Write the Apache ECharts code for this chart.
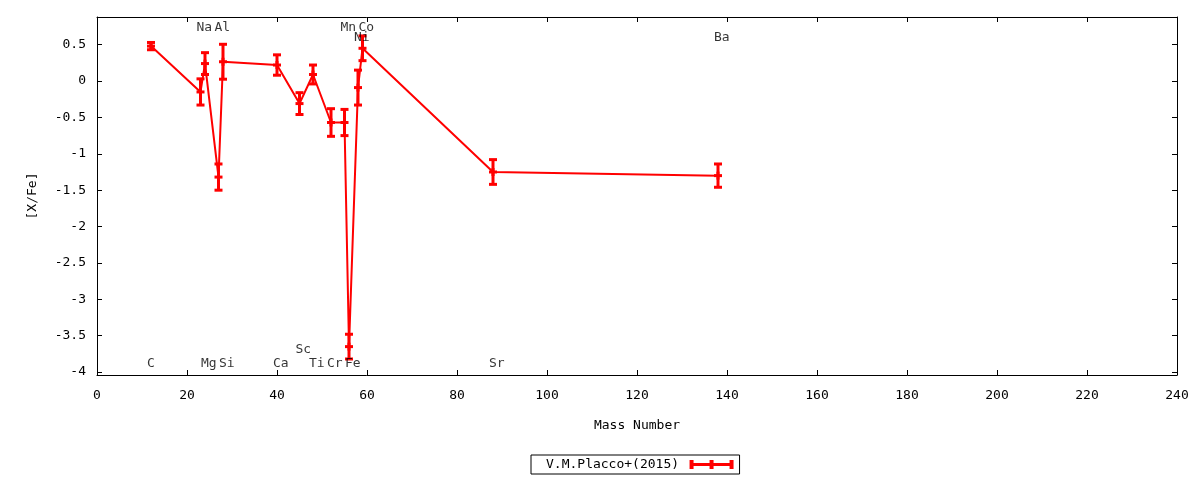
<!DOCTYPE html>
<html><head><meta charset="utf-8">
<script src="https://cdn.jsdelivr.net/npm/echarts@6/dist/echarts.min.js"></script>
<style>html,body{margin:0;padding:0;background:#fff}#c{width:1200px;height:480px}</style>
</head><body><div id="c"></div>
<script>
const seriesName = 'V.M.Placco+(2015)';
const massNumbers = [12, 23, 24, 27, 28, 40, 45, 48, 52, 55, 56, 58, 59, 88, 138];
const xfeValues   = [0.48, -0.15, 0.24, -1.32, 0.265, 0.22, -0.31, 0.09, -0.57, -0.57, -3.65, -0.09, 0.45, -1.25, -1.30];
const xfeErrors   = [0.05, 0.18, 0.15, 0.18, 0.24, 0.14, 0.15, 0.13, 0.19, 0.18, 0.17, 0.24, 0.17, 0.17, 0.16];
const elementNames  = ['C', 'Na', 'Mg', 'Al', 'Si', 'Ca', 'Sc', 'Ti', 'Cr', 'Mn', 'Fe', 'Co', 'Ni', 'Sr', 'Ba'];
const elementMass   = [12, 23, 24, 27, 28, 40, 45, 48, 52, 55, 56, 59, 58, 88, 138];
const elementLabelY = [-3.88, 0.73, -3.88, 0.73, -3.88, -3.88, -3.69, -3.88, -3.88, 0.73, -3.88, 0.73, 0.59, -3.88, 0.59];
const xTicks = [0, 20, 40, 60, 80, 100, 120, 140, 160, 180, 200, 220, 240];
const yTicks = [0.5, 0, -0.5, -1, -1.5, -2, -2.5, -3, -3.5, -4];
const xRange = [0, 240];
const yRange = [-4.04, 0.88];

const FONT = 'DejaVu Sans Mono';
const RED = '#ff0000';

const pointData = massNumbers.map((m, i) => [m, xfeValues[i], xfeErrors[i]]);
const labelData = elementMass.map((m, i) => [m, elementLabelY[i], elementNames[i]]);

const axisLine = {show: true, onZero: false, lineStyle: {color: '#000', width: 1}};
const tickStyle = {show: true, inside: true, length: 5, lineStyle: {color: '#000', width: 1}};
const labelStyle = {fontFamily: FONT, fontSize: 13, color: '#000'};

const chart = echarts.init(document.getElementById('c'), null, {renderer: 'canvas'});
chart.setOption({
  backgroundColor: '#fff',
  animation: false,
  grid: {left: 97, right: 23, top: 17, bottom: 105, containLabel: false},
  xAxis: [
    {type: 'value', min: xRange[0], max: xRange[1], interval: 20, position: 'bottom',
     name: 'Mass Number', nameLocation: 'middle', nameGap: 44,
     nameTextStyle: labelStyle,
     axisLine: axisLine, axisTick: tickStyle, splitLine: {show: false},
     axisLabel: Object.assign({margin: 14, customValues: xTicks, formatter: v => String(v)}, labelStyle)},
    {type: 'value', min: xRange[0], max: xRange[1], interval: 20, position: 'top',
     axisLine: axisLine, axisTick: tickStyle, splitLine: {show: false}, axisLabel: {show: false}}
  ],
  yAxis: [
    {type: 'value', min: yRange[0], max: yRange[1], position: 'left',
     name: '[X/Fe]', nameLocation: 'middle', nameGap: 58, nameRotate: 90,
     nameTextStyle: labelStyle,
     axisLine: axisLine, axisTick: Object.assign({customValues: yTicks}, tickStyle), splitLine: {show: false},
     axisLabel: Object.assign({margin: 11, customValues: yTicks, formatter: v => String(v)}, labelStyle)},
    {type: 'value', min: yRange[0], max: yRange[1], position: 'right',
     axisLine: axisLine, axisTick: Object.assign({customValues: yTicks}, tickStyle), splitLine: {show: false},
     axisLabel: {show: false}}
  ],
  legend: {
    data: [{name: seriesName, icon: 'path://M0,0h4v9h-4zM20,0h4v9h-4zM40,0h4v9h-4zM0,3h44v3h-44z'}],
    align: 'right', left: 531, top: 455, itemWidth: 45, itemHeight: 9,
    borderColor: '#000', borderWidth: 1, borderRadius: 0, padding: [3, 6, 3, 15],
    selectedMode: false,
    textStyle: Object.assign({padding: [0, 5, 0, 0]}, labelStyle)
  },
  series: [
    {type: 'custom', name: seriesName, data: pointData, itemStyle: {color: RED}, z: 3,
     renderItem: function (params, api) {
       const x = api.value(0), y = api.value(1), e = api.value(2);
       const c = api.coord([x, y]);
       const t = api.coord([x, y + e]);
       const b = api.coord([x, y - e]);
       const hw = 4;
       const st = {stroke: RED, lineWidth: 3};
       return {type: 'group', children: [
         {type: 'line', shape: {x1: c[0], y1: t[1], x2: c[0], y2: b[1]}, style: st},
         {type: 'line', shape: {x1: c[0] - hw, y1: t[1], x2: c[0] + hw, y2: t[1]}, style: st},
         {type: 'line', shape: {x1: c[0] - hw, y1: b[1], x2: c[0] + hw, y2: b[1]}, style: st},
         {type: 'line', shape: {x1: c[0] - hw, y1: c[1], x2: c[0] + hw, y2: c[1]}, style: st},
         {type: 'line', shape: {x1: c[0], y1: c[1] - hw, x2: c[0], y2: c[1] + hw}, style: st}
       ]};
     }},
    {type: 'line', name: 'line', data: pointData.map(p => [p[0], p[1]]), symbol: 'none',
     lineStyle: {color: RED, width: 2}, itemStyle: {color: RED}, z: 2},
    {type: 'scatter', name: 'labels', data: labelData, symbolSize: 1, silent: true,
     itemStyle: {color: 'rgba(0,0,0,0)'}, z: 4,
     label: {show: true, position: 'inside', align: 'left', verticalAlign: 'middle', offset: [-4, 0],
             formatter: p => p.data[2], fontFamily: FONT, fontSize: 13, color: '#000'}}
  ]
});
</script>
</body></html>
